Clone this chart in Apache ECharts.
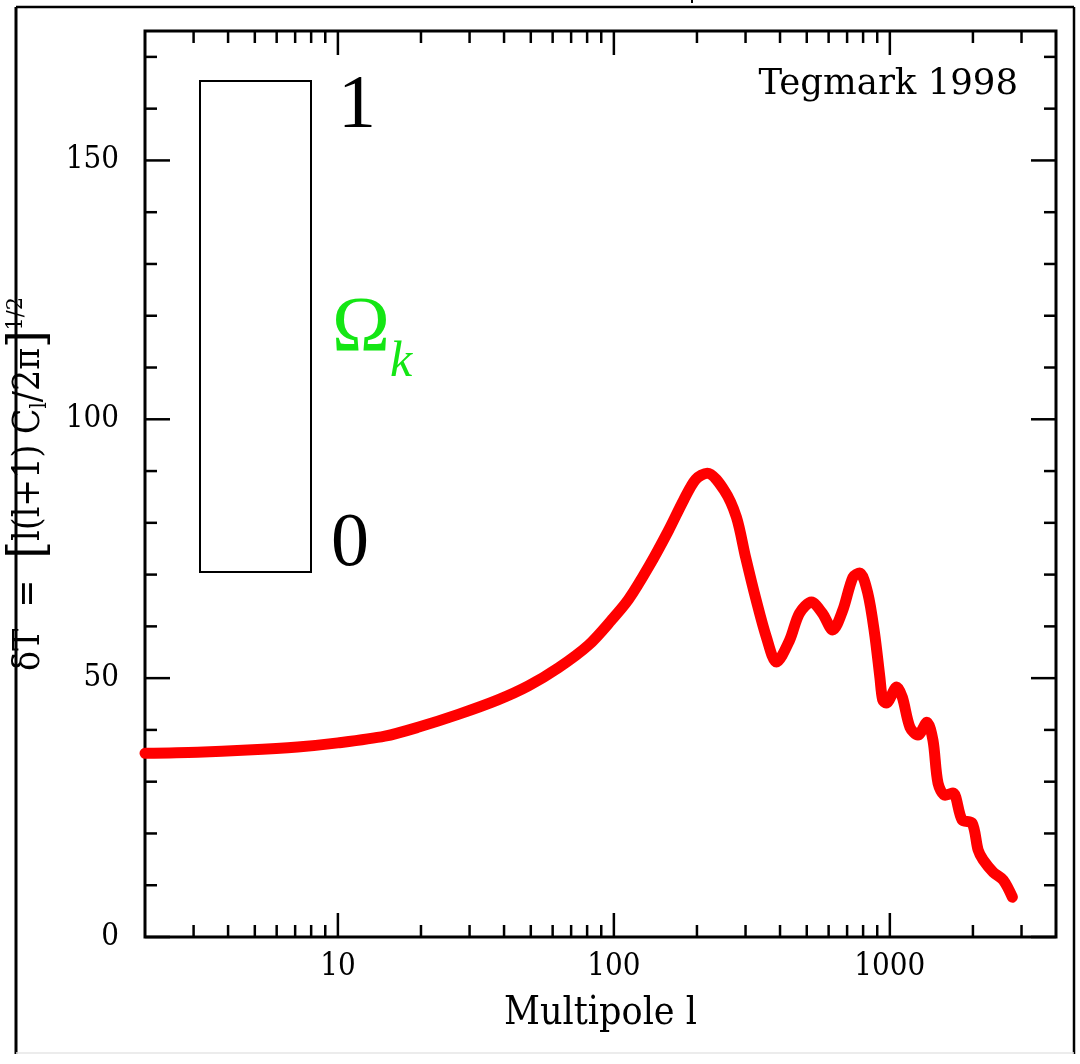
<!DOCTYPE html>
<html>
<head>
<meta charset="utf-8">
<script src="https://cdn.jsdelivr.net/npm/echarts@6/dist/echarts.min.js"></script>
<style>
html,body{margin:0;padding:0;background:#fff;}
#chart{width:1080px;height:1064px;}
</style>
</head>
<body>
<div id="chart"></div>
<script>
// ---- data ----
const multipole = [2, 3.1, 4.7, 7.15, 10, 14.8, 19.5, 27.3, 38, 49, 63, 81, 98, 113, 134, 158, 179, 198, 218, 251, 278, 300, 328, 357, 388, 433, 470, 520, 570, 621, 675, 735, 778, 832, 880, 920, 942, 970, 1060, 1110, 1183, 1264, 1363, 1433, 1495, 1585, 1694, 1828, 1987, 2089, 2178, 2371, 2576, 2780];
const deltaT = [35.5, 35.7, 36.1, 36.7, 37.5, 38.8, 40.5, 43, 45.8, 48.5, 52, 56.4, 61.2, 65.2, 71.6, 78.6, 84.4, 88.4, 89.6, 86.3, 81.1, 73.4, 65, 57.9, 53.1, 57.3, 62.5, 64.7, 62.5, 59.3, 63.1, 69.5, 70.3, 66.4, 58.7, 50.2, 45.8, 45.2, 48.3, 46.3, 40.5, 39, 41.5, 38, 29.7, 27.4, 27.8, 22.6, 22, 16.8, 14.9, 12.5, 11, 7.7];
const xMajorTicks = [10, 100, 1000];
const xMinorTicks = [3, 4, 5, 6, 7, 8, 9, 20, 30, 40, 50, 60, 70, 80, 90, 200, 300, 400, 500, 600, 700, 800, 900, 2000, 3000];
const yMajorTicks = [0, 50, 100, 150];
const yMinorTicks = [10, 20, 30, 40, 60, 70, 80, 90, 110, 120, 130, 140, 160, 170];
const xLabels = ['10', '100', '1000'];
const yLabels = ['0', '50', '100', '150'];
const xRange = [2, 4000];
const yRange = [0, 175];

const curve = multipole.map((l, i) => [l, deltaT[i]]);

const serif = "'DejaVu Serif Condensed', 'DejaVu Serif', serif";
const times = "'Liberation Serif', serif";
const green = '#14e614';

const chart = echarts.init(document.getElementById('chart'), null, {renderer: 'canvas'});

function xTickSeries(values, len) {
  return {
    type: 'custom', silent: true, clip: false, z: 3,
    data: values.map(v => [v, yRange[0]]),
    encode: {x: 0, y: 1},
    renderItem: function (params, api) {
      const px = api.coord([api.value(0), yRange[0]])[0];
      const cs = params.coordSys;
      const yb = cs.y + cs.height, yt = cs.y;
      return {type: 'group', children: [
        {type: 'line', shape: {x1: px, y1: yb, x2: px, y2: yb - len}, style: {stroke: '#000', lineWidth: 2.5}},
        {type: 'line', shape: {x1: px, y1: yt, x2: px, y2: yt + len}, style: {stroke: '#000', lineWidth: 2.5}}
      ]};
    }
  };
}
function yTickSeries(values, len) {
  return {
    type: 'custom', silent: true, clip: false, z: 3,
    data: values.map(v => [xRange[0], v]),
    encode: {x: 0, y: 1},
    renderItem: function (params, api) {
      const py = api.coord([xRange[0], api.value(1)])[1];
      const cs = params.coordSys;
      const xl = cs.x, xr = cs.x + cs.width;
      return {type: 'group', children: [
        {type: 'line', shape: {x1: xl, y1: py, x2: xl + len, y2: py}, style: {stroke: '#000', lineWidth: 2.5}},
        {type: 'line', shape: {x1: xr, y1: py, x2: xr - len, y2: py}, style: {stroke: '#000', lineWidth: 2.5}}
      ]};
    }
  };
}

const option = {
  animation: false,
  backgroundColor: '#fff',
  grid: {left: 145, right: 24, top: 31, bottom: 127, show: true, borderColor: '#000', borderWidth: 3,
         backgroundColor: 'transparent', outerBoundsMode: 'none', containLabel: false},
  xAxis: {
    type: 'log', logBase: 10, min: xRange[0], max: xRange[1],
    axisLine: {show: false}, axisTick: {show: false}, splitLine: {show: false}, minorTick: {show: false},
    axisLabel: {
      show: true, margin: 14, showMinLabel: false, showMaxLabel: false,
      fontFamily: serif, fontSize: 31, color: '#000',
      formatter: v => { const s = String(Math.round(v)); return xLabels.indexOf(s) >= 0 ? s : ''; }
    },
    name: 'Multipole l', nameLocation: 'middle', nameGap: 57,
    nameTextStyle: {fontFamily: serif, fontSize: 39, color: '#000'}
  },
  yAxis: {
    type: 'value', min: yRange[0], max: yRange[1], interval: 50,
    axisLine: {show: false}, axisTick: {show: false}, splitLine: {show: false},
    axisLabel: {
      show: true, margin: 26, showMaxLabel: false,
      fontFamily: serif, fontSize: 31, color: '#000',
      formatter: v => (yLabels.indexOf(String(v)) >= 0 ? String(v) : '')
    },
    name: '{a|δT  =  }{b|[}{a|l(l+1) C}{s|l}{a|/2π}{b|]}{p|1/2}',
    nameLocation: 'middle', nameRotate: 90, nameGap: 80,
    nameTextStyle: {
      color: '#000',
      rich: {
        a: {fontFamily: serif, fontSize: 37, color: '#000', lineHeight: 50, verticalAlign: 'middle'},
        b: {fontFamily: serif, fontSize: 50, color: '#000', lineHeight: 50, verticalAlign: 'middle'},
        s: {fontFamily: serif, fontSize: 22, color: '#000', lineHeight: 50, verticalAlign: 'bottom', padding: [0, 0, 4, 0]},
        p: {fontFamily: serif, fontSize: 23, color: '#000', lineHeight: 50, verticalAlign: 'top', padding: [0, 0, 0, 0]}
      }
    }
  },
  series: [
    xTickSeries(xMajorTicks, 24),
    xTickSeries(xMinorTicks, 12),
    yTickSeries(yMajorTicks, 25),
    yTickSeries(yMinorTicks, 12),
    {
      type: 'line', name: 'deltaT',
      data: curve, showSymbol: false, symbol: 'none', smooth: 0.3,
      lineStyle: {color: '#ff0000', width: 11, cap: 'round', join: 'round'},
      z: 2
    }
  ],
  graphic: [
    // outer border of the picture
    {type: 'line', shape: {x1: 16, y1: 7, x2: 1074, y2: 7}, style: {stroke: '#000', lineWidth: 2.5}, silent: true},
    {type: 'line', shape: {x1: 16, y1: 7, x2: 16, y2: 1054}, style: {stroke: '#000', lineWidth: 3}, silent: true},
    {type: 'line', shape: {x1: 1074, y1: 7, x2: 1074, y2: 1054}, style: {stroke: '#000', lineWidth: 2.5}, silent: true},
    {type: 'line', shape: {x1: 16, y1: 1053, x2: 1074, y2: 1053}, style: {stroke: '#e6e6e6', lineWidth: 1.5}, silent: true},
    {type: 'line', shape: {x1: 692, y1: 0, x2: 692, y2: 3}, style: {stroke: '#000', lineWidth: 2}, silent: true},
    // Omega_k inset box
    {type: 'rect', shape: {x: 200, y: 81, width: 111, height: 491}, style: {fill: '#fff', stroke: '#000', lineWidth: 2}, silent: true, z: 10},
    {type: 'text', x: 338, y: 69, style: {text: '1', fontFamily: times, fontSize: 76, fill: '#000', verticalAlign: 'top'}, silent: true, z: 10},
    {type: 'text', x: 331, y: 507, style: {text: '0', fontFamily: times, fontSize: 76, fill: '#000', verticalAlign: 'top'}, silent: true, z: 10},
    {type: 'text', x: 332, y: 291, style: {text: 'Ω', fontFamily: times, fontSize: 78, fill: green, verticalAlign: 'top'}, silent: true, z: 10},
    {type: 'text', x: 390, y: 338, style: {text: 'k', fontFamily: times, fontStyle: 'italic', fontSize: 50, fill: green, verticalAlign: 'top'}, silent: true, z: 10},
    // credit
    {type: 'text', x: 1018, y: 67, style: {text: 'Tegmark 1998', fontFamily: "'DejaVu Serif', serif", fontSize: 35.5, fill: '#000', align: 'right', verticalAlign: 'top'}, silent: true, z: 10}
  ]
};

chart.setOption(option);
</script>
</body>
</html>
